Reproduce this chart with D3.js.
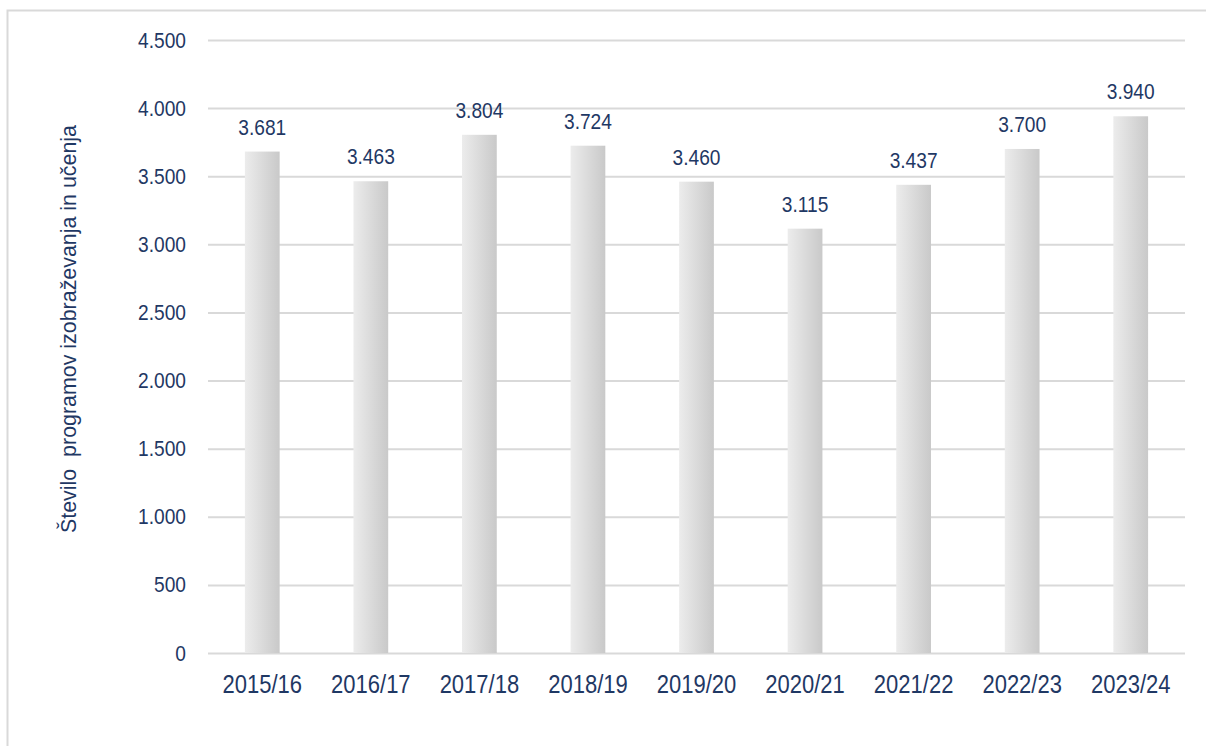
<!DOCTYPE html>
<html>
<head>
<meta charset="utf-8">
<script src="https://cdn.jsdelivr.net/npm/d3@7"></script>
<style>
  body { margin: 0; background: #fff; }
  text { font-family: "Liberation Sans", Arial, sans-serif; fill: #1f3864; }
</style>
</head>
<body>
<div id="main"></div>
<script>
// ====== data ======
var years = ['2015/16', '2016/17', '2017/18', '2018/19', '2019/20', '2020/21', '2021/22', '2022/23', '2023/24'];
var programs = [3681, 3463, 3804, 3724, 3460, 3115, 3437, 3700, 3940];
var yTicks = [0, 500, 1000, 1500, 2000, 2500, 3000, 3500, 4000, 4500];
var yTitle = 'Število  programov izobraževanja in učenja';

// ====== layout ======
const W = 1206, H = 746;
const plot = { left: 208, right: 1185, top: 40, bottom: 653 };

const fmt = d3.formatLocale({ decimal: ',', thousands: '.', grouping: [3], currency: ['', ''] }).format(',d');

// squeeze text horizontally, the original uses a narrow font
function condense(sel, ratio) {
  sel.each(function() {
    var w = this.getComputedTextLength();
    d3.select(this)
      .attr('textLength', w * ratio)
      .attr('lengthAdjust', 'spacingAndGlyphs');
  });
}

const svg = d3.select('#main').append('svg')
  .attr('width', W)
  .attr('height', H);

// bar gradient (lighter left, darker right)
var grad = svg.append('defs').append('linearGradient')
  .attr('id', 'barGrad')
  .attr('x1', '0%').attr('x2', '100%').attr('y1', '0%').attr('y2', '0%');
grad.append('stop').attr('offset', '0%').attr('stop-color', '#ececec');
grad.append('stop').attr('offset', '100%').attr('stop-color', '#c9c9c9');

// frame (top and left edges)
svg.append('path')
  .attr('d', 'M7.5,' + H + ' V10.5 H' + W)
  .attr('fill', 'none')
  .attr('stroke', '#d9d9d9')
  .attr('stroke-width', 2);

var x = d3.scaleBand()
  .domain(years)
  .range([plot.left, plot.right])
  .paddingInner(0.68)
  .paddingOuter(0.34);

var y = d3.scaleLinear()
  .domain([0, 4500])
  .range([plot.bottom, plot.top]);

// gridlines + y labels
var yAxis = d3.axisLeft(y)
  .tickValues(yTicks)
  .tickSize(-(plot.right - plot.left))
  .tickPadding(22)
  .tickFormat(fmt);

var gy = svg.append('g')
  .attr('transform', 'translate(' + plot.left + ',0)')
  .call(yAxis);
gy.select('.domain').remove();
gy.selectAll('line').attr('stroke', '#d9d9d9').attr('stroke-width', 2);
gy.selectAll('text')
  .style('font-size', '22px')
  .attr('fill', '#1f3864')
  .call(condense, 0.87);

// x labels
var xAxis = d3.axisBottom(x).tickSize(0).tickPadding(22);
var gx = svg.append('g')
  .attr('transform', 'translate(0,' + plot.bottom + ')')
  .call(xAxis);
gx.select('.domain').remove();
gx.selectAll('text')
  .style('font-size', '25px')
  .attr('fill', '#1f3864')
  .call(condense, 0.88);

// bars
svg.append('g').selectAll('rect')
  .data(programs)
  .enter()
  .append('rect')
  .attr('x', (d, i) => x(years[i]))
  .attr('y', d => y(d))
  .attr('width', x.bandwidth())
  .attr('height', d => plot.bottom - y(d))
  .attr('fill', 'url(#barGrad)');

// value labels
svg.append('g').selectAll('text')
  .data(programs)
  .enter()
  .append('text')
  .attr('x', (d, i) => x(years[i]) + x.bandwidth() / 2)
  .attr('y', d => y(d) - 17)
  .attr('text-anchor', 'middle')
  .style('font-size', '22px')
  .text(d => fmt(d))
  .call(condense, 0.87);

// y title
svg.append('text')
  .attr('transform', 'translate(76,329) rotate(-90)')
  .attr('text-anchor', 'middle')
  .style('font-size', '22px')
  .style('white-space', 'pre')
  .text(yTitle)
  .attr('textLength', 408)
  .attr('lengthAdjust', 'spacingAndGlyphs');
</script>
</body>
</html>
